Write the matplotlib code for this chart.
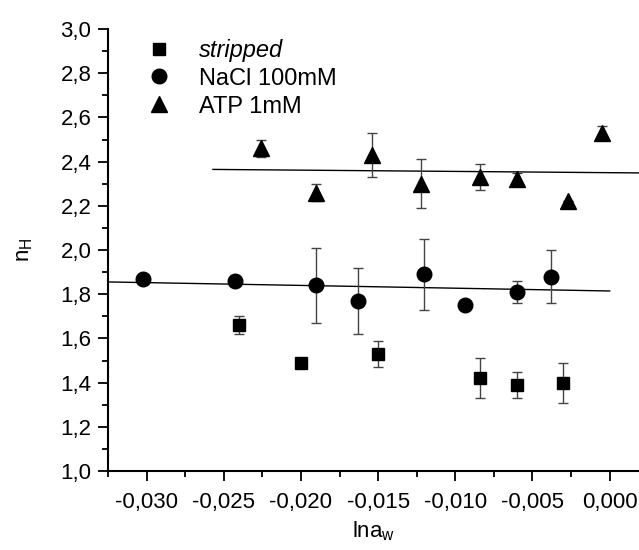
import numpy as np
import matplotlib
matplotlib.use("Agg")
import matplotlib.pyplot as plt
from matplotlib.ticker import MultipleLocator, FuncFormatter

plt.rcParams['font.family'] = ['Liberation Sans', 'DejaVu Sans']

# stripped
x_str = [-0.0240, -0.0200, -0.0150, -0.0084, -0.0060, -0.0030]
y_str = [1.66, 1.49, 1.53, 1.42, 1.39, 1.40]
e_str = [0.04, 0.01, 0.06, 0.09, 0.06, 0.09]

# NaCl 100mM
x_nacl = [-0.0302, -0.0243, -0.0190, -0.0163, -0.0120, -0.0094, -0.0060, -0.0038]
y_nacl = [1.87, 1.86, 1.84, 1.77, 1.89, 1.75, 1.81, 1.88]
e_nacl = [0.02, 0.02, 0.17, 0.15, 0.16, 0.0, 0.05, 0.12]

# ATP 1mM
x_atp = [-0.0226, -0.0190, -0.0154, -0.0122, -0.0084, -0.0060, -0.0027, -0.0005]
y_atp = [2.46, 2.26, 2.43, 2.30, 2.33, 2.32, 2.22, 2.53]
e_atp = [0.04, 0.04, 0.10, 0.11, 0.06, 0.03, 0.0, 0.03]

# ranges of the linear fits
fit_nacl_range = [-0.0325, 0.0]
fit_atp_range = [-0.0257, 0.0019]

fig = plt.figure(figsize=(6.39, 5.5), dpi=100)
ax = fig.add_axes([0.169, 0.1436, 0.831, 0.8036])

ecol = '#444444'
ax.errorbar(x_str, y_str, yerr=e_str, fmt='s', color='black', ms=8.5,
            ecolor=ecol, elinewidth=1, capsize=3.5, capthick=1, label='stripped')
ax.errorbar(x_nacl, y_nacl, yerr=e_nacl, fmt='o', color='black', ms=10.5,
            ecolor=ecol, elinewidth=1, capsize=3.5, capthick=1, label='NaCl 100mM')
ax.errorbar(x_atp, y_atp, yerr=e_atp, fmt='^', color='black', ms=12,
            ecolor=ecol, elinewidth=1, capsize=3.5, capthick=1, label='ATP 1mM')

for xs, ys, rng in [(x_nacl, y_nacl, fit_nacl_range), (x_atp, y_atp, fit_atp_range)]:
    k, b = np.polyfit(xs, ys, 1)
    xx = np.array(rng)
    ax.plot(xx, k * xx + b, color='black', lw=1, zorder=1)

ax.set_xlim(-0.0325, 0.0019)
ax.set_ylim(1.0, 3.0)
ax.xaxis.set_major_locator(MultipleLocator(0.005))
ax.xaxis.set_minor_locator(MultipleLocator(0.0025))
ax.yaxis.set_major_locator(MultipleLocator(0.2))
ax.yaxis.set_minor_locator(MultipleLocator(0.1))
ax.xaxis.set_major_formatter(FuncFormatter(lambda v, p: f"{v:.3f}".replace('.', ',').replace('-0,000', '0,000')))
ax.yaxis.set_major_formatter(FuncFormatter(lambda v, p: f"{v:.1f}".replace('.', ',')))
ax.tick_params(which='both', direction='out', width=1.3, labelsize=16)
ax.tick_params(which='major', length=7)
ax.tick_params(which='minor', length=4)
ax.tick_params(axis='x', pad=8)
ax.tick_params(axis='y', pad=5)

for s in ['top', 'right']:
    ax.spines[s].set_visible(False)
for s in ['left', 'bottom']:
    ax.spines[s].set_linewidth(1.5)

ax.set_xlabel(r'lna$_{\mathregular{w}}$', fontsize=16, labelpad=5)
ax.set_ylabel(r'n$_{\mathregular{H}}$', fontsize=16, labelpad=18)

handles, labels = ax.get_legend_handles_labels()
handles = [h[0] for h in handles]
leg = ax.legend(handles, labels, loc='upper left', bbox_to_anchor=(0.025, 1.01),
                frameon=False, fontsize=17, handletextpad=0.7, labelspacing=0.25,
                borderaxespad=0.2)
leg.get_texts()[0].set_style('italic')

fig.savefig('out.png', dpi=100)
